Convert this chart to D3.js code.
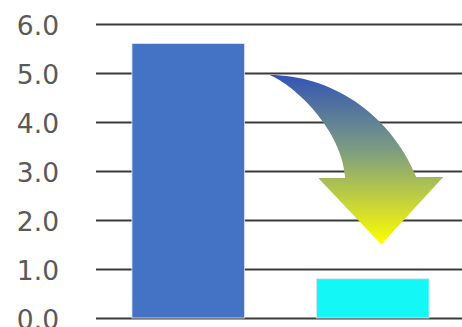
<!DOCTYPE html>
<html><head><meta charset="utf-8">
<script src="https://cdn.jsdelivr.net/npm/d3@7"></script>
<style>body{margin:0;background:#fff;}svg{display:block;}</style>
</head><body>
<svg id="c" width="462" height="327"></svg>
<script>
const categories = ["A", "B"];
const values = [5.6, 0.8];
const barColors = ["#4472C4", "#13F7F5"];
const tickValues = [0, 1, 2, 3, 4, 5, 6];
const tickLabels = ["0.0", "1.0", "2.0", "3.0", "4.0", "5.0", "6.0"];

const svg = d3.select("#c");
const x = d3.scaleBand().domain(categories).range([96, 465]).paddingInner(0.39).paddingOuter(0.195);
const y = d3.scaleLinear().domain([0, 6]).range([318, 24]);

// gridlines
svg.append("g").selectAll("line").data(tickValues).join("line")
  .attr("x1", 96).attr("x2", 462)
  .attr("y1", d => Math.round(y(d)) + 0.5).attr("y2", d => Math.round(y(d)) + 0.5)
  .attr("stroke", "#3a3a3a").attr("stroke-width", 1.8);

// labels
svg.append("g").selectAll("text").data(tickValues).join("text")
  .attr("x", 59).attr("y", d => y(d) + 1)
  .attr("dy", "0.36em")
  .attr("text-anchor", "end")
  .attr("font-family", "DejaVu Sans, Verdana, sans-serif")
  .attr("font-size", 26.5)
  .attr("fill", "#595959")
  .text((d, i) => tickLabels[i]);

// bars
svg.append("g").selectAll("rect").data(values).join("rect")
  .attr("x", (d, i) => x(categories[i]))
  .attr("width", x.bandwidth())
  .attr("y", d => y(d))
  .attr("height", d => y(0) - y(d))
  .attr("fill", (d, i) => barColors[i])
  .attr("stroke", "#dbe4f3").attr("stroke-width", 0.8);

// curved arrow annotation, anchored to the scales
const tx = x(categories[0]) + x.bandwidth() + 25; // tail x
const ty = y(5.0) + 2;                             // tail y
const hx = x(categories[1]) + x.bandwidth() / 2 + 8.5; // head center x
const hy = y(2.88);                                // head base y
const tipY = y(1.5);
const defs = svg.append("defs");
const grad = defs.append("linearGradient").attr("id", "ag")
  .attr("gradientUnits", "userSpaceOnUse")
  .attr("x1", 0).attr("y1", ty).attr("x2", 0).attr("y2", tipY);
grad.append("stop").attr("offset", "0").attr("stop-color", "#3354B5");
grad.append("stop").attr("offset", "0.45").attr("stop-color", "#7E9E80");
grad.append("stop").attr("offset", "1").attr("stop-color", "#FFFF00");

const p = d3.path();
p.moveTo(tx, ty);
p.bezierCurveTo(tx + 60, ty, tx + 120, ty + 37, hx + 35, hy);
p.lineTo(hx + 62, hy);
p.lineTo(hx, tipY);
p.lineTo(hx - 63, hy + 1);
p.lineTo(hx - 36, hy + 1);
p.bezierCurveTo(hx - 39, ty + 55, tx + 25, ty + 10, tx, ty);
p.closePath();
svg.append("path").attr("d", p.toString()).attr("fill", "url(#ag)");
</script>
</body></html>
